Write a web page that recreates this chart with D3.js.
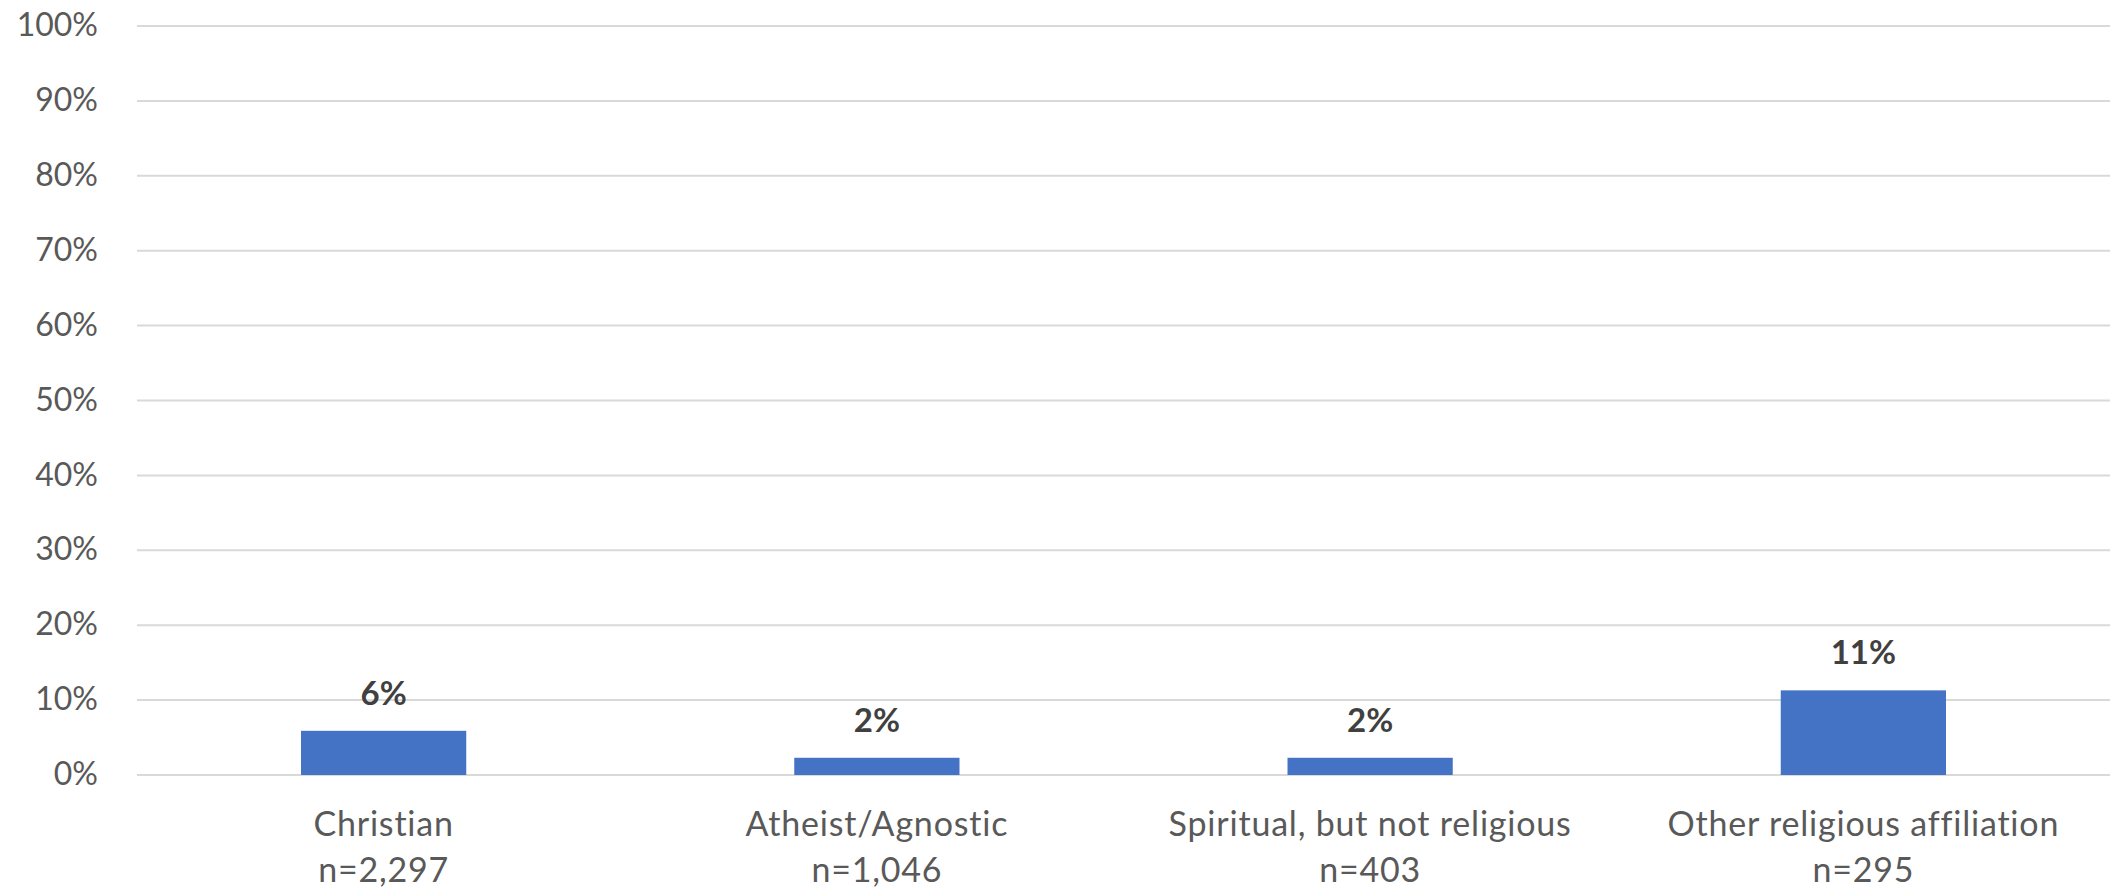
<!DOCTYPE html>
<html>
<head>
<meta charset="utf-8">
<script src="https://cdn.jsdelivr.net/npm/d3@7"></script>
<style>
  html, body { margin: 0; padding: 0; background: #fff; }
  svg { display: block; }
  text { font-family: Lato, "Open Sans", sans-serif; }
</style>
</head>
<body>
<svg id="chart" width="2114" height="891"></svg>
<script>
// Share of each religious group, in percent
const categories = ["Christian", "Atheist/Agnostic", "Spiritual, but not religious", "Other religious affiliation"];
const sampleSizes = ["n=2,297", "n=1,046", "n=403", "n=295"];
const values = [5.9, 2.3, 2.3, 11.3];
const yTicks = [0, 10, 20, 30, 40, 50, 60, 70, 80, 90, 100];

const width = 2114, height = 891;
const margin = { top: 26, right: 4, bottom: 116, left: 137 };

const svg = d3.select("#chart");

const x = d3.scaleBand()
  .domain(categories)
  .range([margin.left, width - margin.right])
  .paddingInner(0.665)
  .paddingOuter(0.3325);

const y = d3.scaleLinear()
  .domain([0, 100])
  .range([height - margin.bottom, margin.top]);

// Horizontal gridlines
svg.append("g")
  .selectAll("line")
  .data(yTicks)
  .join("line")
  .attr("x1", margin.left)
  .attr("x2", width - margin.right)
  .attr("y1", d => y(d))
  .attr("y2", d => y(d))
  .attr("stroke", "#d9d9d9")
  .attr("stroke-width", 2);

// Y axis labels
const yAxis = d3.axisLeft(y)
  .tickValues(yTicks)
  .tickFormat(d => d + "%")
  .tickSize(0)
  .tickPadding(39);

svg.append("g")
  .attr("transform", `translate(${margin.left},0)`)
  .call(yAxis)
  .call(g => g.select(".domain").remove())
  .call(g => g.selectAll("text")
    .attr("font-family", "Lato, 'Open Sans', sans-serif")
    .attr("font-size", 32)
    .attr("fill", "#595959")
    .attr("dy", "0.3em"));

// Bars
svg.append("g")
  .selectAll("rect")
  .data(values)
  .join("rect")
  .attr("x", (d, i) => x(categories[i]))
  .attr("width", x.bandwidth())
  .attr("y", d => y(d))
  .attr("height", d => y(0) - y(d))
  .attr("fill", "#4472c4");

// Value labels above bars
svg.append("g")
  .selectAll("text")
  .data(values)
  .join("text")
  .attr("x", (d, i) => x(categories[i]) + x.bandwidth() / 2)
  .attr("y", d => y(d) - 26)
  .attr("text-anchor", "middle")
  .attr("font-size", 33)
  .attr("font-weight", "bold")
  .attr("fill", "#404040")
  .text(d => Math.round(d) + "%");

// Category labels with sample sizes
const catG = svg.append("g")
  .selectAll("text")
  .data(categories)
  .join("text")
  .attr("text-anchor", "middle")
  .attr("font-size", 34)
  .attr("letter-spacing", 0.8)
  .attr("fill", "#595959");

catG.append("tspan")
  .attr("x", d => x(d) + x.bandwidth() / 2)
  .attr("y", y(0) + 61)
  .text(d => d);

catG.append("tspan")
  .attr("x", d => x(d) + x.bandwidth() / 2)
  .attr("y", y(0) + 107)
  .text((d, i) => sampleSizes[i]);
</script>
</body>
</html>
